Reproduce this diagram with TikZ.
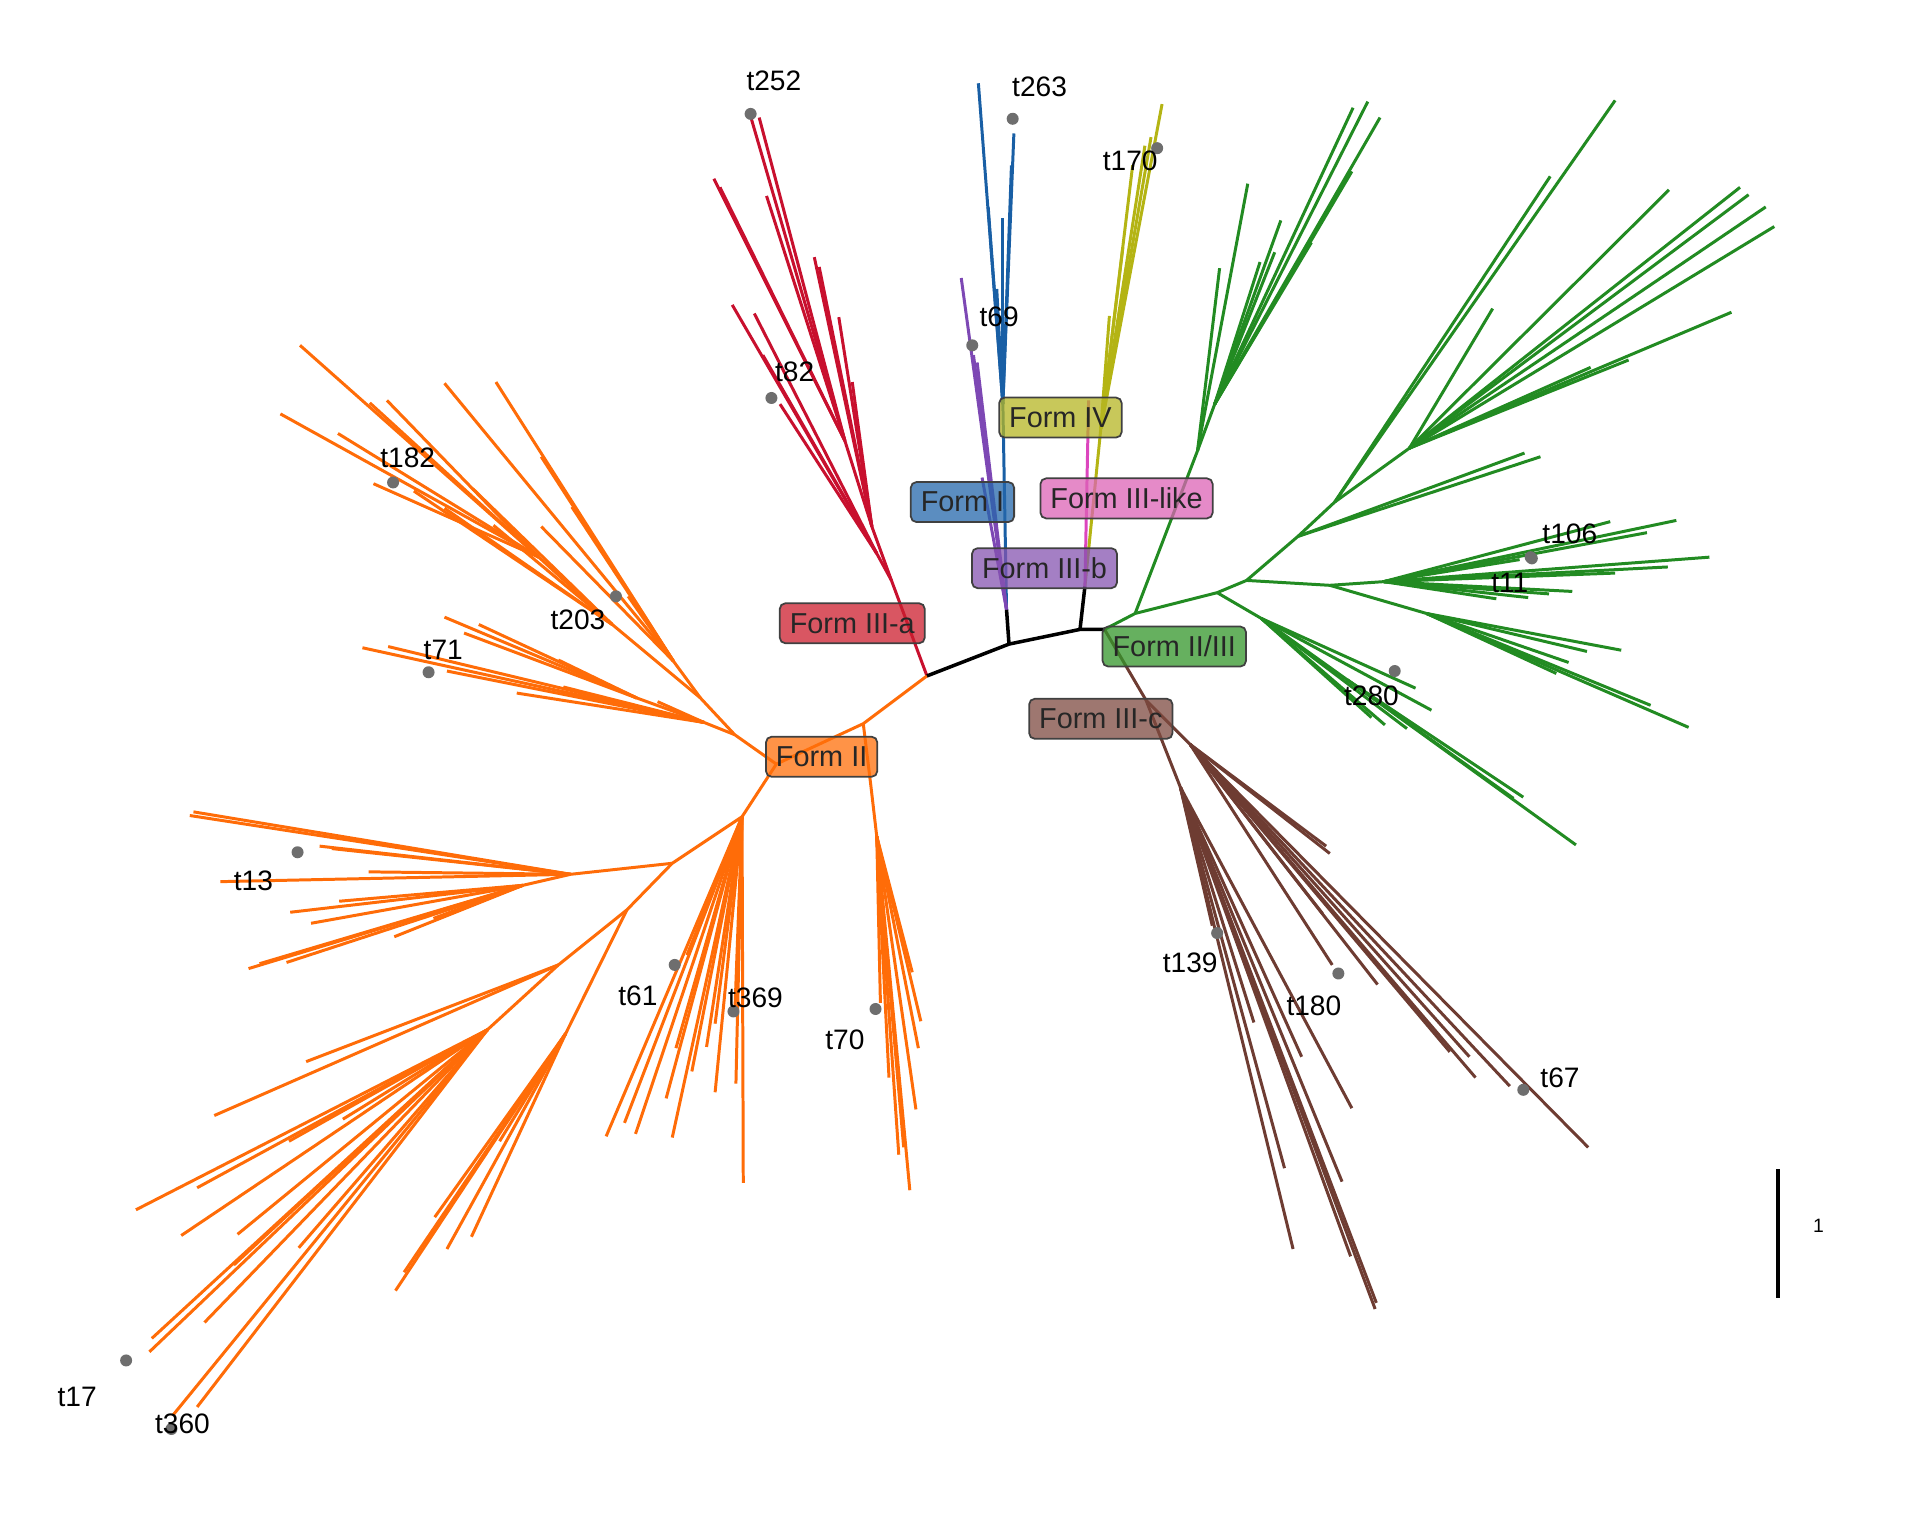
\documentclass[tikz,border=0pt]{standalone}
\usepackage{fontspec}
\setmainfont{Liberation Sans}
\definecolor{cO}{RGB}{255,108,8}
\definecolor{cR}{RGB}{200,16,46}
\definecolor{cB}{RGB}{25,95,165}
\definecolor{cP}{RGB}{125,72,180}
\definecolor{cY}{RGB}{180,180,20}
\definecolor{cK}{RGB}{220,70,190}
\definecolor{cG}{RGB}{34,139,34}
\definecolor{cN}{RGB}{110,60,50}
\definecolor{lO}{RGB}{255,111,10}
\definecolor{lR}{RGB}{204,30,46}
\definecolor{lB}{RGB}{36,103,171}
\definecolor{lY}{RGB}{182,182,35}
\definecolor{lK}{RGB}{220,99,182}
\definecolor{lP}{RGB}{134,84,176}
\definecolor{lG}{RGB}{51,150,42}
\definecolor{lN}{RGB}{126,74,64}
\definecolor{dotc}{RGB}{110,110,110}
\newcommand\fan[3]{\foreach \xx/\yy [count=\ii] in {#3}{\coordinate (#2x\ii) at (\xx,\yy); \draw[#1] (#2) -- (#2x\ii);}}
\tikzset{
  br/.style={line width=0.85pt, line join=round},
  bk/.style={line width=1pt, line join=round, black},
  lab/.style={draw=black!75, line width=0.5pt, rounded corners=1.6pt, fill opacity=0.75, text opacity=1, text=black!85, font=\fontsize{8.2}{9}\selectfont, minimum height=0.40cm, inner xsep=0.1cm, inner ysep=0pt},
  tiplab/.style={font=\fontsize{8}{9}\selectfont, inner sep=0pt},
  tipdot/.style={circle, fill=dotc, inner sep=0pt, minimum size=0.12cm}
}
\begin{document}
\begin{tikzpicture}[x=0.012245cm, y=-0.012245cm]
\useasboundingbox (0,0) rectangle (1568,1254);
% backbone coordinates
\coordinate (O0) at (757,552);
\coordinate (K1) at (824,526);
\coordinate (K2) at (882,514);
\coordinate (K3) at (902,514);
\coordinate (KB) at (822,498);
\coordinate (KY) at (886,479);
% ---------- red (Form III-a)
\coordinate (R1) at (728,474);
\coordinate (R2) at (712,430);
\coordinate (R3) at (690,360);
\coordinate (R4) at (716,452);
\draw[br,cR] (O0)--(R1)--(R2)--(R3);
\draw[br,cR] (R1)--(R4);
\fan{br,cR}{R3}{583/146, 588/153, 613/95, 620/96, 626/160}
\fan{br,cR}{R2}{665/210, 669/218, 685/259, 696/312}
\fan{br,cR}{R4}{598/249, 616/256, 623/290, 637/330}
% ---------- blue (Form I)
\coordinate (B1) at (819,330);
\draw[br,cB] (KB)--(B1);
\fan{br,cB}{B1}{799/68, 828/109, 826/135, 807/169, 819/178, 814/236}
% ---------- purple (Form III-b)
\fan{br,cP}{KB}{785/227, 795/290, 798/296, 802/390}
% ---------- yellow (Form IV) and pink (Form III-like)
\coordinate (Y1) at (899,350);
\draw[br,cY] (KY)--(Y1);
\fan{br,cY}{Y1}{949/85, 935/119, 940/112, 925/135, 917/202, 906/258}
\coordinate (PK) at (889,327);
\draw[br,cK] (KY)--(PK);
% ---------- green (Form II/III)
\coordinate (G1) at (927,501);
\coordinate (G2) at (994,484);
\coordinate (G3) at (1018,474);
\coordinate (G4) at (1060,438);
\coordinate (G5) at (1090,410);
\coordinate (G6) at (1151,366);
\coordinate (GU1) at (978,368);
\coordinate (GU2) at (992,330);
\coordinate (GR1) at (1086,478);
\coordinate (GR2) at (1130,475);
\coordinate (GR3) at (1165,501);
\coordinate (GL1) at (1030,505);
\coordinate (GL2) at (1100,555);
\draw[br,cG] (K3)--(G1)--(G2)--(G3)--(G4)--(G5)--(G6);
\draw[br,cG] (G1)--(GU1)--(GU2);
\draw[br,cG] (G3)--(GR1)--(GR2);
\draw[br,cG] (GR1)--(GR3);
\draw[br,cG] (G2)--(GL1)--(GL2);
\fan{br,cG}{GU1}{1019/150, 996/219}
\fan{br,cG}{GU2}{1105/88, 1117/83, 1127/96, 1104/140, 1071/198, 1046/180, 1041/206, 1029/214}
\fan{br,cG}{G4}{1258/373, 1245/370}
\fan{br,cG}{G5}{1319/82, 1266/144}
\fan{br,cG}{G6}{1363/155, 1421/153, 1428/159, 1442/169, 1449/185, 1414/255, 1299/300, 1330/294, 1219/252}
\fan{br,cG}{GR2}{1315/426, 1369/425, 1345/435, 1396/455, 1362/463, 1319/468, 1284/483, 1265/485, 1248/488, 1222/489, 1241/457}
\fan{br,cG}{GR3}{1324/531, 1296/532, 1281/541, 1348/576, 1379/594, 1271/550}
\fan{br,cG}{GL1}{1156/562, 1169/580, 1120/586, 1131/592, 1149/595}
\fan{br,cG}{GL2}{1244/651, 1236/652, 1287/690}
% ---------- brown (Form III-c)
\coordinate (N1) at (936,572);
\coordinate (N2) at (964,643);
\coordinate (N3) at (972,608);
\draw[br,cN] (K3)--(N1)--(N2);
\draw[br,cN] (N1)--(N3);
\fan{br,cN}{N2}{990/756, 1024/835, 1049/954, 1056/1020, 1063/863, 1096/965, 1103/1026, 1123/1069, 1124/1064, 1104/905}
\fan{br,cN}{N3}{1086/697, 1083/691, 1080/746, 1088/788, 1125/804, 1205/880, 1233/887, 1297/937, 1200/863, 1184/859}
% ---------- orange (Form II)
\coordinate (O1) at (705,591);
\coordinate (O2) at (634,624);
\coordinate (O3) at (606,667);
\coordinate (O4) at (549,705);
\coordinate (O5) at (512,743);
\coordinate (O6) at (456,788);
\coordinate (O7) at (398,841);
\coordinate (O8) at (462,844);
\coordinate (OT1) at (711,640);
\coordinate (OT2) at (716,683);
\coordinate (UL1) at (600,600);
\coordinate (UL2) at (572,570);
\coordinate (UL3) at (550,540);
\coordinate (UL4) at (500,510);
\coordinate (UL5) at (440,455);
\coordinate (T1) at (575,590);
\coordinate (T2) at (520,570);
\coordinate (OL1) at (466,714);
\coordinate (OL3) at (427,723);
\draw[br,cO] (O0)--(O1)--(O2)--(O3)--(O4)--(O5)--(O6)--(O7);
\draw[br,cO] (O5)--(O8);
\draw[br,cO] (O1)--(OT1)--(OT2);
\draw[br,cO] (O2)--(UL1)--(UL2)--(UL4)--(UL5);
\draw[br,cO] (UL2)--(UL3);
\draw[br,cO] (UL1)--(T1)--(T2);
\draw[br,cO] (O4)--(OL1)--(OL3);
\fan{br,cO}{OT2}{719/819, 745/794, 752/834, 750/856, 748/906, 734/943, 738/937, 743/972, 726/880}
\fan{br,cO}{T1}{296/529, 317/528, 365/548, 422/566, 460/561, 537/573}
\fan{br,cO}{T2}{363/504, 379/517, 391/510, 456/539}
\fan{br,cO}{UL3}{363/313, 405/312, 442/373, 467/414, 442/430, 513/487}
\fan{br,cO}{UL5}{245/282, 229/338, 302/329, 316/327, 276/354, 305/395}
\fan{br,cO}{UL4}{338/401, 363/415, 386/399, 403/429}
\fan{br,cO}{O3}{495/928, 510/917, 519/926, 544/897, 549/929, 552/856, 565/875, 584/892, 584/836, 601/885, 607/966, 561/780, 577/855, 600/830}
\fan{br,cO}{OL1}{155/666, 158/663, 261/691, 271/693, 180/720, 301/712}
\fan{br,cO}{OL3}{237/745, 254/754, 277/736, 203/791, 212/787, 234/786, 354/750, 322/765}
\fan{br,cO}{O6}{250/867, 175/911}
\fan{br,cO}{O7}{111/988, 148/1009, 236/932, 161/970, 280/914, 124/1093, 122/1104, 194/1008, 167/1080, 191/1033, 244/1019, 141/1156, 161/1149}
\fan{br,cO}{O8}{323/1054, 330/1039, 355/994, 365/1020, 385/1010, 408/932}
% ---------- backbone (black)
\draw[bk] (O0)--(K1)--(K2)--(K3);
\draw[bk] (K1)--(KB);
\draw[bk] (K2)--(KY);
% ---------- clade labels
\node[lab, fill=lO] (LII) at (671,618) {Form II};
\node[lab, fill=lR] (LIIIa) at (696,509) {Form III-a};
\node[lab, fill=lB] (LI) at (786,410) {Form I};
\node[lab, fill=lY] (LIV) at (866,341) {Form IV};
\node[lab, fill=lK] (LIIIl) at (920,407) {Form III-like};
\node[lab, fill=lP] (LIIIb) at (853,464) {Form III-b};
\node[lab, fill=lG] (LIIIII) at (959,528) {Form II/III};
\node[lab, fill=lN] (LIIIc) at (899,587) {Form III-c};
% ---------- tip dots
\node[tipdot] (d252) at (613,93) {};
\node[tipdot] (d263) at (827,97) {};
\node[tipdot] (d170) at (945,121) {};
\node[tipdot] (d69) at (794,282) {};
\node[tipdot] (d82) at (630,325) {};
\node[tipdot] (d182) at (321,394) {};
\node[tipdot] (d203) at (503,487) {};
\node[tipdot] (d71) at (350,549) {};
\node[tipdot] (d106) at (1250,455) {};
\node[tipdot] (d11) at (1251,456) {};
\node[tipdot] (d280) at (1139,548) {};
\node[tipdot] (d139) at (994,762) {};
\node[tipdot] (d180) at (1093,795) {};
\node[tipdot] (d67) at (1244,890) {};
\node[tipdot] (d13) at (243,696) {};
\node[tipdot] (d61) at (551,788) {};
\node[tipdot] (d369) at (599,826) {};
\node[tipdot] (d70) at (715,824) {};
\node[tipdot] (d17) at (103,1111) {};
\node[tipdot] (d360) at (140,1167) {};
% ---------- tip labels
\node[tiplab] (l252) at (632,66) {t252};
\node[tiplab] (l263) at (849,71) {t263};
\node[tiplab] (l170) at (923,131) {t170};
\node[tiplab] (l69) at (816,259) {t69};
\node[tiplab] (l82) at (649,304) {t82};
\node[tiplab] (l182) at (333,374) {t182};
\node[tiplab] (l203) at (472,506) {t203};
\node[tiplab] (l71) at (362,531) {t71};
\node[tiplab] (l106) at (1282,436) {t106};
\node[tiplab] (l11) at (1233,476) {t11};
\node[tiplab] (l280) at (1120,568) {t280};
\node[tiplab] (l139) at (972,786) {t139};
\node[tiplab] (l180) at (1073,821) {t180};
\node[tiplab] (l67) at (1274,880) {t67};
\node[tiplab] (l13) at (207,719) {t13};
\node[tiplab] (l61) at (521,813) {t61};
\node[tiplab] (l369) at (617,815) {t369};
\node[tiplab] (l70) at (690,849) {t70};
\node[tiplab] (l17) at (63,1141) {t17};
\node[tiplab] (l360) at (149,1163) {t360};
% ---------- scale bar
\coordinate (SB1) at (1452,955);
\coordinate (SB2) at (1452,1060);
\draw[line width=0.9pt] (SB1)--(SB2);
\node[font=\fontsize{5.5}{6}\selectfont, inner sep=0pt] (s1) at (1485,1001) {1};
\end{tikzpicture}
\end{document}
